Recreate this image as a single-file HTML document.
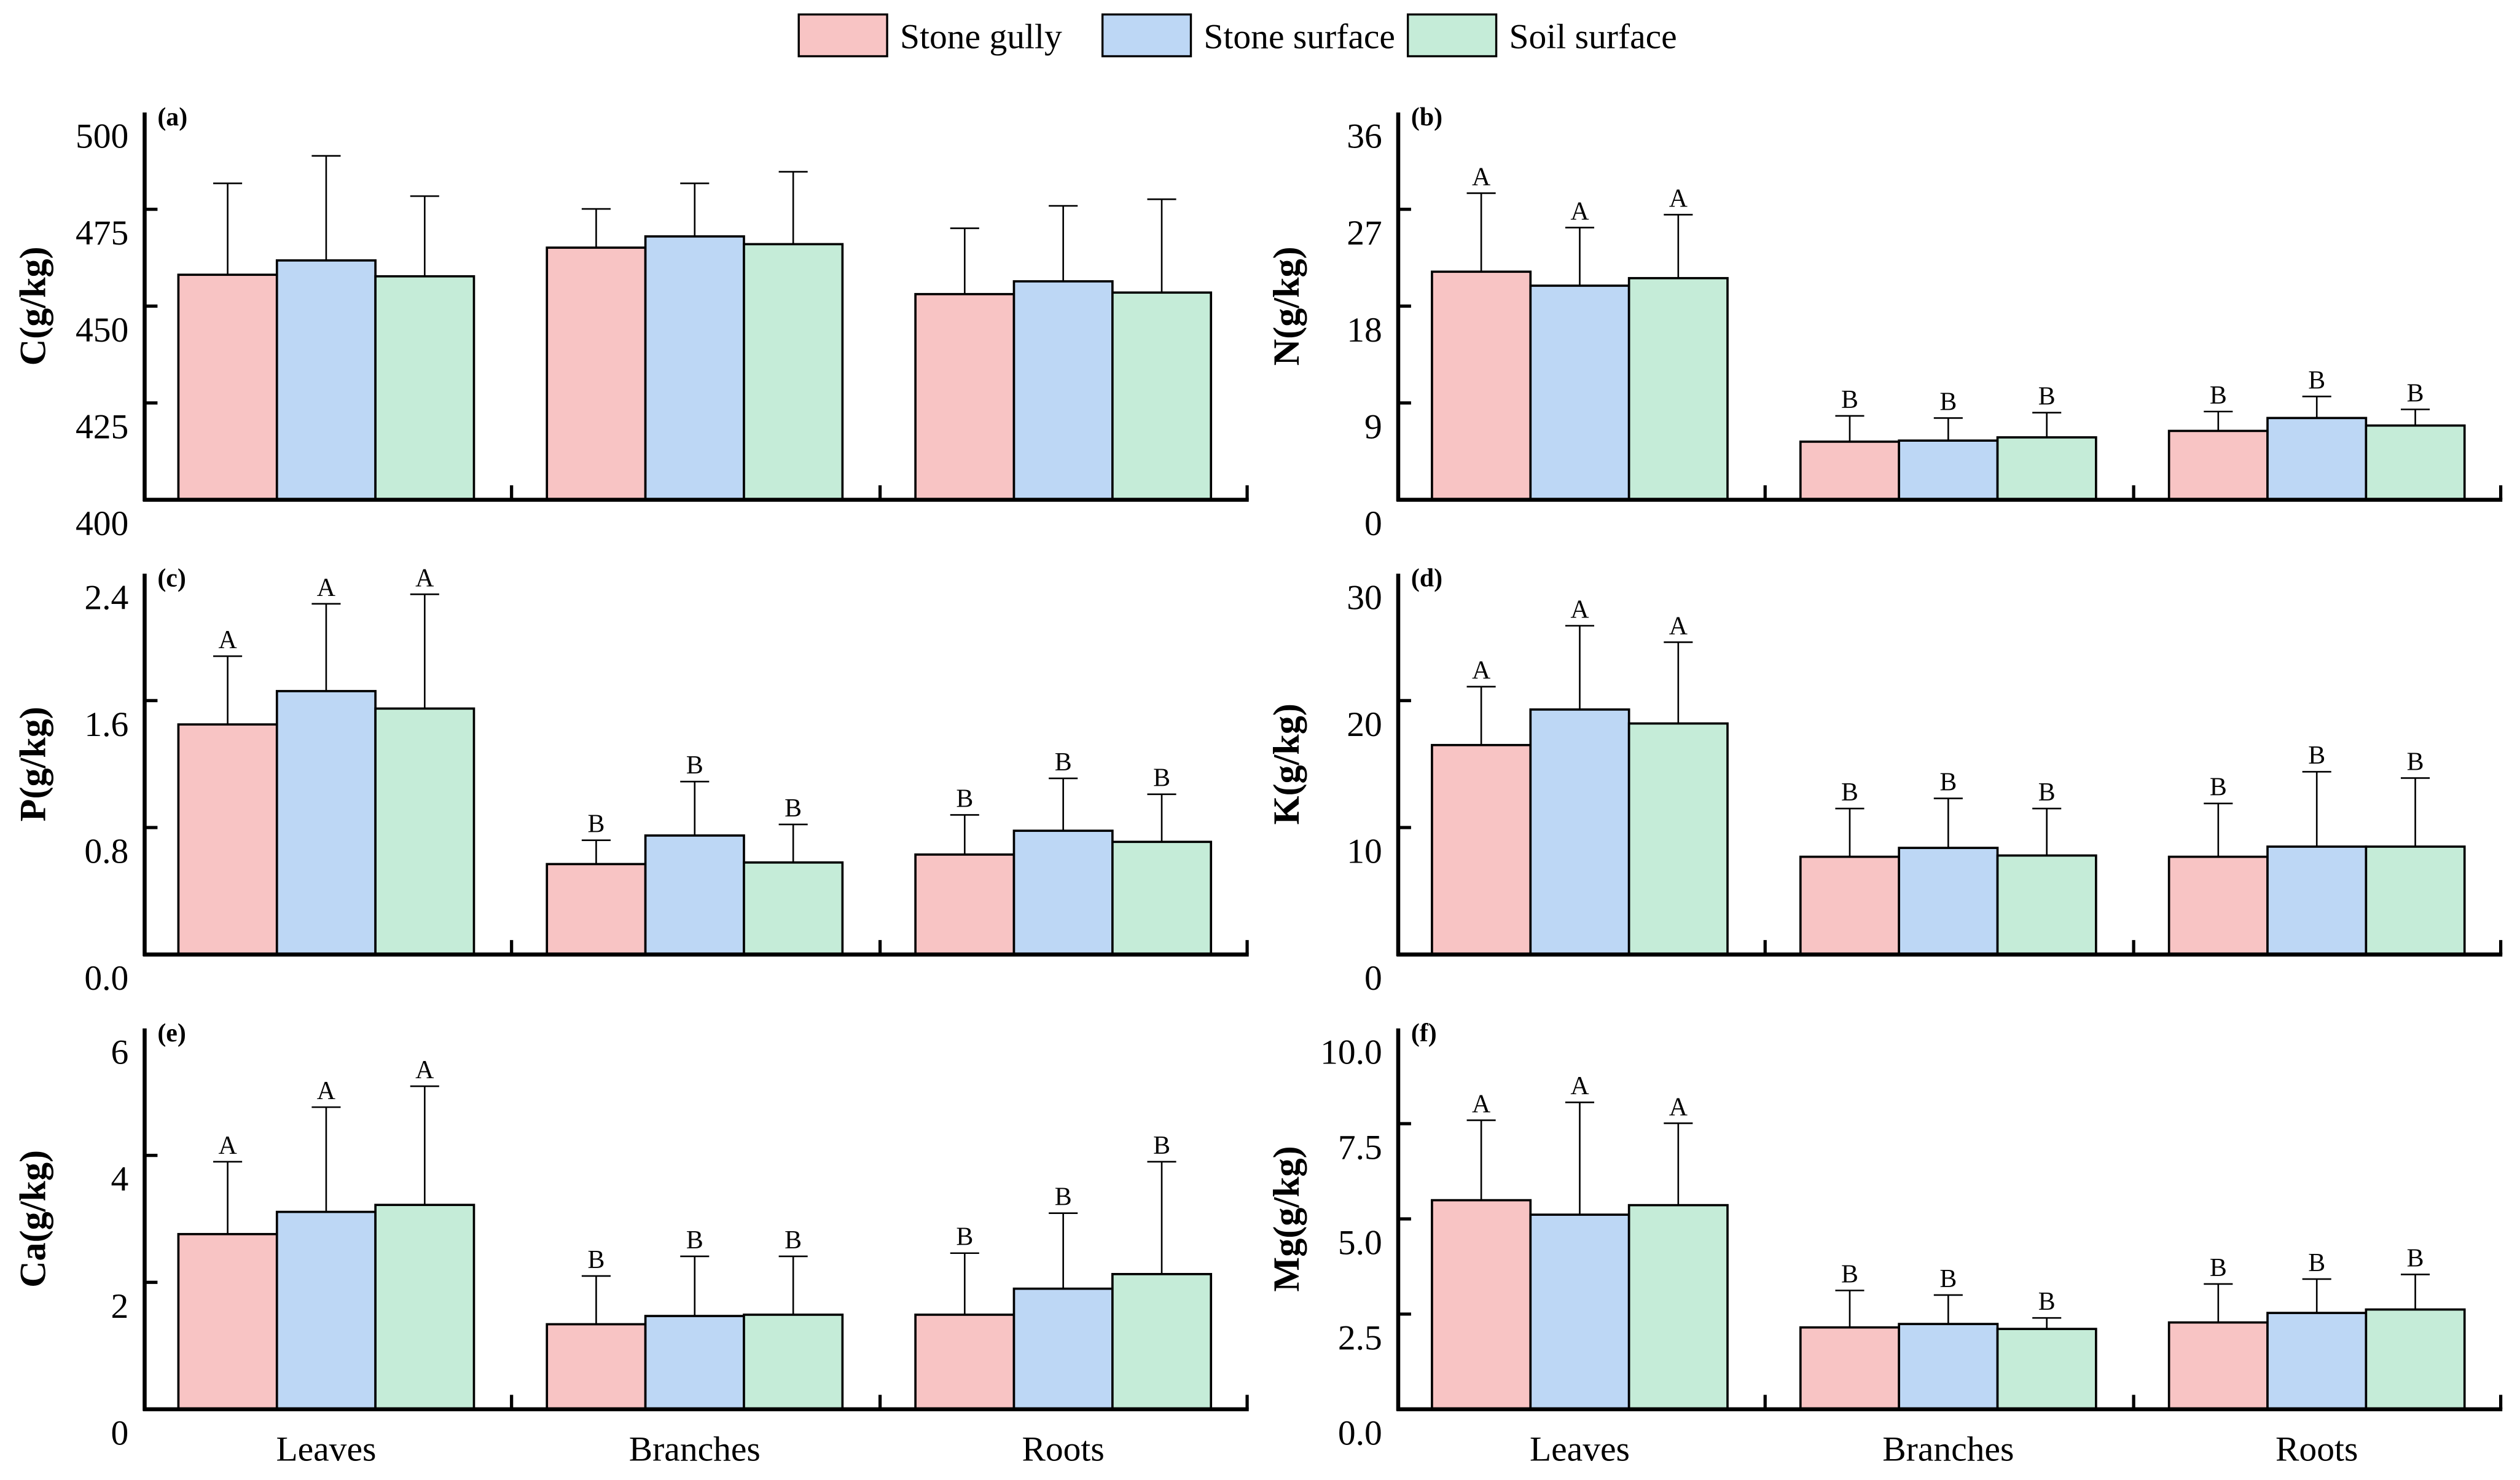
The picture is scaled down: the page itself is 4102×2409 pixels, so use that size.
<!DOCTYPE html>
<html><head><meta charset="utf-8"><style>
html,body{margin:0;padding:0;background:#fff;}
svg{display:block;font-family:"Liberation Serif",serif;}
</style></head><body>
<svg id="chart" width="4102" height="2409" viewBox="0 0 1568 921" preserveAspectRatio="none" xmlns="http://www.w3.org/2000/svg">
<g>
  <rect x="497" y="9" width="55" height="26" fill="#f8c4c4" stroke="#000" stroke-width="1.3"/>
  <text x="560" y="30" font-size="22">Stone gully</text>
  <rect x="686" y="9" width="55" height="26" fill="#bdd7f5" stroke="#000" stroke-width="1.3"/>
  <text x="749" y="30" font-size="22">Stone surface</text>
  <rect x="876" y="9" width="55" height="26" fill="#c5ecd8" stroke="#000" stroke-width="1.3"/>
  <text x="939" y="30" font-size="22">Soil surface</text>
</g>
</svg>
<script>
const categories = ["Leaves","Branches","Roots"];
const seriesNames = ["Stone gully","Stone surface","Soil surface"];
const colors = ["#f8c4c4","#bdd7f5","#c5ecd8"];
// panel a: C
const cMean = [[458.1,461.8,457.7],[465.1,468.0,466.0],[453.1,456.4,453.5]];
const cErr  = [[481.7,488.8,478.4],[475.1,481.7,484.7],[470.1,475.9,477.6]];
const cTicks = ["400","425","450","475","500"];
// panel b: N
const nMean = [[21.2,19.9,20.6],[5.4,5.5,5.8],[6.4,7.6,6.9]];
const nErr  = [[28.5,25.3,26.5],[7.8,7.6,8.1],[8.2,9.6,8.4]];
const nTicks = ["0","9","18","27","36"];
// panel c: P
const pMean = [[1.45,1.66,1.55],[0.57,0.75,0.58],[0.63,0.78,0.71]];
const pErr  = [[1.88,2.21,2.27],[0.72,1.09,0.82],[0.88,1.11,1.01]];
const pTicks = ["0.0","0.8","1.6","2.4"];
// panel d: K
const kMean = [[16.5,19.3,18.2],[7.7,8.4,7.8],[7.7,8.5,8.5]];
const kErr  = [[21.1,25.9,24.6],[11.5,12.3,11.5],[11.9,14.4,13.9]];
const kTicks = ["0","10","20","30"];
// panel e: Ca
const caMean = [[2.76,3.11,3.22],[1.34,1.47,1.49],[1.49,1.90,2.13]];
const caErr  = [[3.90,4.76,5.09],[2.10,2.41,2.41],[2.46,3.09,3.90]];
const caTicks = ["0","2","4","6"];
// panel f: Mg
const mgMean = [[5.49,5.11,5.36],[2.15,2.24,2.11],[2.28,2.53,2.62]];
const mgErr  = [[7.59,8.06,7.51],[3.12,3.00,2.40],[3.29,3.42,3.54]];
const mgTicks = ["0.0","2.5","5.0","7.5","10.0"];
const letters = [["A","A","A"],["B","B","B"],["B","B","B"]];

const NS = "http://www.w3.org/2000/svg";
const svg = document.getElementById("chart");
function mk(tag, attrs, parent){
  const e = document.createElementNS(NS, tag);
  for (const k in attrs) e.setAttribute(k, attrs[k]);
  (parent||svg).appendChild(e);
  return e;
}
const panels = [
  {id:"a", title:"C(g/kg)", mean:cMean, err:cErr, ticks:cTicks, ax:90, top:70, bot:311, letters:false},
  {id:"b", title:"N(g/kg)", mean:nMean, err:nErr, ticks:nTicks, ax:870, top:70, bot:311, letters:true},
  {id:"c", title:"P(g/kg)", mean:pMean, err:pErr, ticks:pTicks, ax:90, top:357, bot:594, letters:true},
  {id:"d", title:"K(g/kg)", mean:kMean, err:kErr, ticks:kTicks, ax:870, top:357, bot:594, letters:true},
  {id:"e", title:"Ca(g/kg)", mean:caMean, err:caErr, ticks:caTicks, ax:90, top:640, bot:877, letters:true, cat:true},
  {id:"f", title:"Mg(g/kg)", mean:mgMean, err:mgErr, ticks:mgTicks, ax:870, top:640, bot:877, letters:true, cat:true}
];
panels.forEach(p=>{
  const g = mk("g",{});
  
  
  const tmin = parseFloat(p.ticks[0]), tmax = parseFloat(p.ticks[p.ticks.length-1]);
  const y = v => p.bot - (v - tmin)/(tmax - tmin)*(p.bot - p.top);
  const groupW = 229.3, barW = 61.3;
  const x0 = p.ax + 21;
  p.mean.forEach((grp, gi)=>{
    grp.forEach((v, si)=>{
      const bx = x0 + gi*groupW + si*barW;
      const cx = bx + barW/2;
      const ey = y(p.err[gi][si]);
      const el = mk("line",{x1:cx,x2:cx,y1:y(v),y2:ey,stroke:"#000","stroke-width":1},g);
      
      
      const cap = mk("line",{x1:cx-9,x2:cx+9,y1:ey,y2:ey,stroke:"#000","stroke-width":1},g);
      
      
      const r = mk("rect",{x:bx,y:y(v),width:barW,height:p.bot-y(v),fill:colors[si],stroke:"#000","stroke-width":1.4},g);
      
      
      if (p.letters){
        const t = mk("text",{x:cx,y:ey-5,"font-size":16,"text-anchor":"middle"},g);
        t.textContent = letters[gi][si];
        
        
      }
    });
  });
  const ya = mk("line",{x1:p.ax,x2:p.ax,y1:p.top,y2:p.bot+1,stroke:"#000","stroke-width":2.5},g);
  
  
  const xEnd = p.ax + 687;
  const xa = mk("line",{x1:p.ax-1,x2:xEnd,y1:p.bot,y2:p.bot,stroke:"#000","stroke-width":2.5},g);
  
  
  for (let k=1;k<=3;k++){
    const tx = k<3 ? p.ax + 21 + k*groupW - 22 : xEnd - 1;
    const s = mk("line",{x1:tx,x2:tx,y1:p.bot,y2:p.bot-9,stroke:"#000","stroke-width":2},g);
    
    
  }
  p.ticks.forEach((lab)=>{
    const v = parseFloat(lab);
    const ty = y(v);
    if (v !== tmin && v !== tmax){
      const tk = mk("line",{x1:p.ax,x2:p.ax+8,y1:ty,y2:ty,stroke:"#000","stroke-width":2},g);
      
      
    }
    const tt = mk("text",{x:p.ax-10,y:ty+22,"font-size":22,"text-anchor":"end"},g);
    tt.textContent = lab;
    
    
  });
  const pl = mk("text",{x:p.ax+8,y:p.top+8,"font-size":16,"font-weight":"bold"},g);
  pl.textContent = "(" + p.id + ")";
  
  
  const cy = (p.top+p.bot)/2;
  const tl = mk("text",{x:0,y:0,"font-size":23,"font-weight":"bold","text-anchor":"middle",transform:"translate("+(p.ax-62)+","+cy+") rotate(-90)"},g);
  tl.textContent = p.title;
  
  
  if (p.cat){
    categories.forEach((c,gi)=>{
      const cx = x0 + gi*groupW + 1.5*barW;
      const ct = mk("text",{x:cx,y:909,"font-size":22,"text-anchor":"middle"},g);
      ct.textContent = c;
      
      
    });
  }
});
</script>
</body></html>
